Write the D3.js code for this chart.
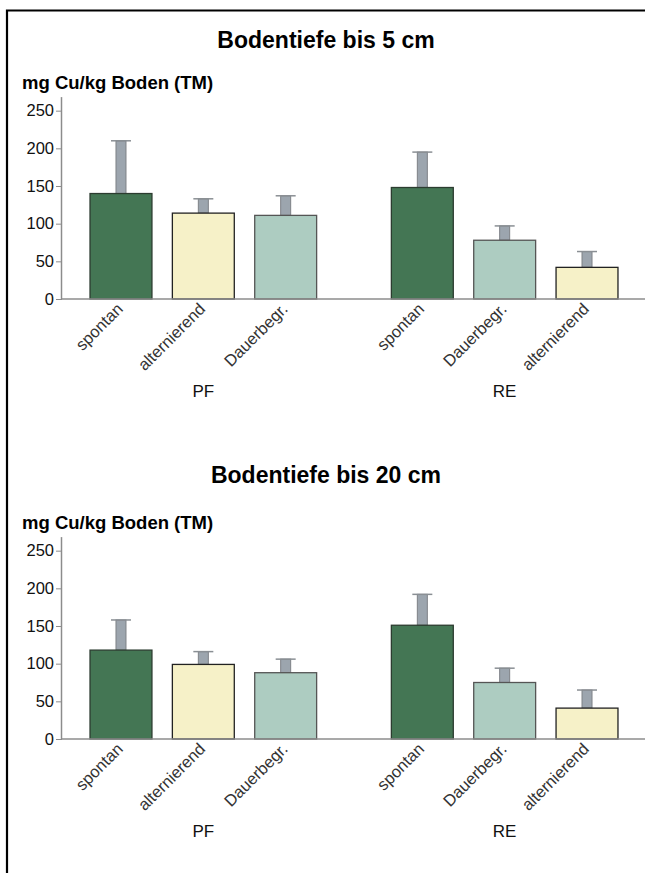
<!DOCTYPE html>
<html>
<head>
<meta charset="utf-8">
<script src="https://cdn.jsdelivr.net/npm/d3@7"></script>
<style>
  body { margin: 0; background: #fff; }
  svg { display: block; font-family: "Liberation Sans", Arial, sans-serif; }
</style>
</head>
<body>
<svg id="chart" width="645" height="873"></svg>
<script>
// data
const groups = ['PF', 'RE'];
const catsPF = ['spontan', 'alternierend', 'Dauerbegr.'];
const catsRE = ['spontan', 'Dauerbegr.', 'alternierend'];
const yTicks = [0, 50, 100, 150, 200, 250];

const titles = ['Bodentiefe bis 5 cm', 'Bodentiefe bis 20 cm'];
const yLabel = 'mg Cu/kg Boden (TM)';

// means and upper error ends, per depth, in order PF..., RE...
const means5 = [140, 114, 111, 148, 78, 42];
const upper5 = [210, 133, 137, 195, 97, 63];
const means20 = [118, 99, 88, 151, 75, 41];
const upper20 = [158, 116, 106, 192, 94, 65];

const colors = {spontan: '#447654', alternierend: '#f6f1c8', 'Dauerbegr.': '#adccc1'};
const strokes = {spontan: '#2c3c30', alternierend: '#222', 'Dauerbegr.': '#555'};

const svg = d3.select('#chart');

// frame (top and left only)
svg.append('path')
  .attr('d', 'M7,873 V10.5 H645')
  .attr('fill', 'none')
  .attr('stroke', '#000')
  .attr('stroke-width', 2.2);

const x0 = d3.scaleBand().domain(groups).range([62, 646]).paddingInner(0.248).paddingOuter(0.093);
const x1 = d3.scaleBand().domain([0, 1, 2]).range([0, x0.bandwidth()]).paddingInner(0.248);

function drawPanel(offY, title, titleY, means, upper) {
  const g = svg.append('g').attr('transform', `translate(0,${offY})`);
  const y = d3.scaleLinear().domain([0, 268]).range([299, 97.1]);

  g.append('text')
    .attr('x', 326).attr('y', titleY)
    .attr('text-anchor', 'middle')
    .attr('font-weight', 'bold').attr('font-size', 23)
    .text(title);

  g.append('text')
    .attr('x', 22).attr('y', 89)
    .attr('font-weight', 'bold').attr('font-size', 18.5)
    .text(yLabel);

  const rows = [];
  groups.forEach((grp, gi) => {
    const cats = gi === 0 ? catsPF : catsRE;
    cats.forEach((c, ci) => {
      rows.push({grp, cat: c, idx: ci, mean: means[gi * 3 + ci], hi: upper[gi * 3 + ci]});
    });
  });
  const cx = d => x0(d.grp) + x1(d.idx) + x1.bandwidth() / 2;

  // error bars
  g.selectAll('rect.err').data(rows).join('rect')
    .attr('class', 'err')
    .attr('x', d => cx(d) - 5)
    .attr('width', 10)
    .attr('y', d => y(d.hi))
    .attr('height', d => y(d.mean) - y(d.hi))
    .attr('fill', '#9ca5ae')
    .attr('stroke', '#7d8186')
    .attr('stroke-width', 1);
  g.selectAll('line.cap').data(rows).join('line')
    .attr('class', 'cap')
    .attr('x1', d => cx(d) - 10).attr('x2', d => cx(d) + 10)
    .attr('y1', d => y(d.hi)).attr('y2', d => y(d.hi))
    .attr('stroke', '#8a8f94').attr('stroke-width', 1.5);

  // bars
  g.selectAll('rect.bar').data(rows).join('rect')
    .attr('class', 'bar')
    .attr('x', d => x0(d.grp) + x1(d.idx))
    .attr('width', x1.bandwidth())
    .attr('y', d => y(d.mean))
    .attr('height', d => y(0) - y(d.mean))
    .attr('fill', d => colors[d.cat])
    .attr('stroke', d => strokes[d.cat])
    .attr('stroke-width', 1.3);

  // y axis
  const ax = g.append('g')
    .attr('transform', 'translate(62,0)')
    .call(d3.axisLeft(y).tickValues(yTicks).tickSize(6).tickPadding(2));
  ax.select('.domain').attr('stroke', '#8c8c8c').attr('stroke-width', 1.5)
    .attr('d', `M-0.5,${y(0)}V${y(268)}`);
  ax.selectAll('.tick line').attr('stroke', '#8c8c8c');
  ax.selectAll('.tick text').attr('font-size', 16.5).attr('fill', '#111')
    .attr('font-family', '"Liberation Sans", Arial, sans-serif');

  // baseline
  g.append('line')
    .attr('x1', 62).attr('x2', 645)
    .attr('y1', y(0)).attr('y2', y(0))
    .attr('stroke', '#8c8c8c').attr('stroke-width', 1.5);

  // category labels
  g.selectAll('text.cat').data(rows).join('text')
    .attr('class', 'cat')
    .attr('transform', d => `translate(${cx(d) + 3},${y(0) + 11}) rotate(-45)`)
    .attr('text-anchor', 'end')
    .attr('font-size', 16.5)
    .attr('fill', '#333')
    .text(d => d.cat);

  // group labels
  g.selectAll('text.grp').data(groups).join('text')
    .attr('class', 'grp')
    .attr('x', d => x0(d) + x0.bandwidth() / 2)
    .attr('y', 397)
    .attr('text-anchor', 'middle')
    .attr('font-size', 17)
    .attr('fill', '#111')
    .text(d => d);
}

drawPanel(0, titles[0], 48, means5, upper5);
drawPanel(440, titles[1], 43, means20, upper20);
</script>
</body>
</html>
